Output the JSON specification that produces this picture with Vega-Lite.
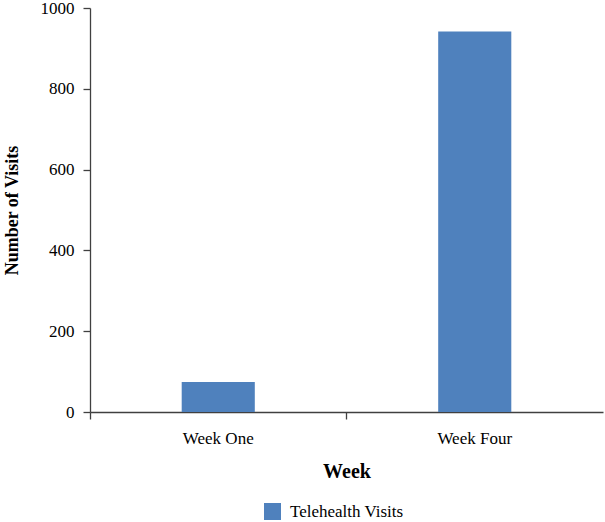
{
  "$schema": "https://vega.github.io/schema/vega-lite/v6.json",
  "autosize": "none",
  "width": 513,
  "height": 404,
  "padding": {"left": 90, "top": 8, "right": 2, "bottom": 110},
  "background": "white",
  "data": {"values": [
    {"week": "Week One", "visits": 74, "series": "Telehealth Visits"},
    {"week": "Week Four", "visits": 942, "series": "Telehealth Visits"}
  ]},
  "mark": {"type": "bar", "width": {"band": 0.285}},
  "encoding": {
    "x": {
      "field": "week", "type": "nominal", "sort": null,
      "scale": {"paddingInner": 0, "paddingOuter": 0},
      "axis": {
        "title": "Week", "labelAngle": 0, "bandPosition": 0,
        "labelFont": "Liberation Serif", "labelFontSize": 17, "labelColor": "#000",
        "labelPadding": 11,
        "titleFont": "Liberation Serif", "titleFontSize": 20, "titleFontWeight": "bold",
        "titleColor": "#000", "titlePadding": 15,
        "domainColor": "#404040", "tickColor": "#404040", "tickSize": 7, "domainWidth": 1.3, "tickWidth": 1.3,
        "grid": false
      }
    },
    "y": {
      "field": "visits", "type": "quantitative",
      "scale": {"domain": [0, 1000], "nice": false},
      "axis": {
        "title": "Number of Visits", "values": [0, 200, 400, 600, 800, 1000], "format": "d",
        "labelFont": "Liberation Serif", "labelFontSize": 17, "labelColor": "#000",
        "labelPadding": 9,
        "titleFont": "Liberation Serif", "titleFontSize": 18, "titleFontWeight": "bold",
        "titleColor": "#000", "titlePadding": 19,
        "domainColor": "#404040", "tickColor": "#404040", "tickSize": 7, "domainWidth": 1.3, "tickWidth": 1.3,
        "grid": false
      }
    },
    "color": {
      "field": "series", "type": "nominal",
      "scale": {"range": ["#4F81BD"]},
      "legend": {
        "title": null, "orient": "none", "legendX": 174, "legendY": 495,
        "symbolType": "square", "symbolSize": 289, "symbolStrokeWidth": 0,
        "labelFont": "Liberation Serif", "labelFontSize": 17, "labelColor": "#000",
        "labelOffset": 9
      }
    }
  },
  "config": {
    "font": "Liberation Serif",
    "view": {"stroke": null}
  }
}
